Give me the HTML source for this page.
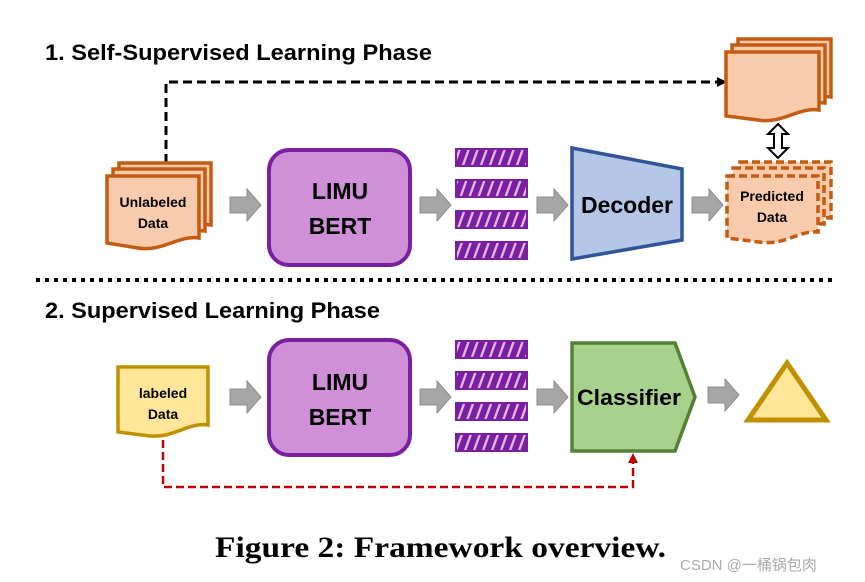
<!DOCTYPE html>
<html><head><meta charset="utf-8"><style>
html,body{margin:0;padding:0;background:#fff;}
svg{display:block;}
.t{font-family:"Liberation Sans",sans-serif;font-weight:bold;}
</style></head><body>
<svg width="865" height="582" viewBox="0 0 865 582" xmlns="http://www.w3.org/2000/svg">
<defs>
<pattern id="hatch" width="9" height="18" patternUnits="userSpaceOnUse" patternTransform="skewX(-20)">
<rect width="9" height="18" fill="#7a1fa0"/><rect x="4" y="0" width="2.5" height="18" fill="#e0b8e8"/>
</pattern>
<marker id="ab" markerWidth="10" markerHeight="10" refX="8" refY="5" orient="auto" markerUnits="userSpaceOnUse"><path d="M0,0 L10,5 L0,10 z" fill="#000"/></marker>
<marker id="ar" markerWidth="10" markerHeight="10" refX="8" refY="5" orient="auto" markerUnits="userSpaceOnUse"><path d="M0,0 L10,5 L0,10 z" fill="#c00000"/></marker>
<g id="garrow"><path d="M0,-8 L17,-8 L17,-16 L31,0 L17,16 L17,8 L0,8 z" fill="#a6a6a6" stroke="#8c8c8c" stroke-width="1"/></g>
<g id="bars" stroke="#7a1fa0" stroke-width="2">
<rect x="1" y="1" width="71" height="17" fill="url(#hatch)"/>
<rect x="1" y="32" width="71" height="17" fill="url(#hatch)"/>
<rect x="1" y="63" width="71" height="17" fill="url(#hatch)"/>
<rect x="1" y="94" width="71" height="17" fill="url(#hatch)"/>
</g>
</defs>

<text x="45" y="60" class="t" font-size="22" fill="#000" textLength="387" lengthAdjust="spacingAndGlyphs">1. Self-Supervised Learning Phase</text>

<path d="M166,163 L166,82 L725,82" fill="none" stroke="#000" stroke-width="3" stroke-dasharray="9,5" marker-end="url(#ab)"/>

<g fill="#f8cbad" stroke="#c55a11" stroke-width="3.5">
<path d="M119,163 L211,163 L211,225 C190,222 175,240 150,236 L119,232 z"/>
<path d="M113,169 L205,169 L205,231 C184,228 169,246 144,242 L113,238 z"/>
<path d="M107,176 L199,176 L199,238 C178,235 163,252 138,248 L107,243 z"/>
</g>
<text x="153" y="207" class="t" font-size="14" text-anchor="middle">Unlabeled</text>
<text x="153" y="228" class="t" font-size="14" text-anchor="middle">Data</text>

<use href="#garrow" x="230" y="205"/>
<rect x="269" y="150" width="141" height="115" rx="20" fill="#cf90d8" stroke="#7a1fa0" stroke-width="4"/>
<text x="340" y="199" class="t" font-size="23" text-anchor="middle">LIMU</text>
<text x="340" y="234" class="t" font-size="23" text-anchor="middle">BERT</text>
<use href="#garrow" x="420" y="205"/>
<use href="#bars" x="455" y="148"/>
<use href="#garrow" x="537" y="205"/>
<path d="M572,148 L682,169 L682,240 L572,259 z" fill="#b4c7e7" stroke="#2f5597" stroke-width="3.5"/>
<text x="627" y="213" class="t" font-size="23" text-anchor="middle">Decoder</text>
<use href="#garrow" x="692" y="205"/>

<g fill="#f8cbad" stroke="#c55a11" stroke-width="3.5">
<path d="M738,39 L831,39 L831,97 C810,94 795,112 770,108 L738,104 z"/>
<path d="M732,45 L825,45 L825,103 C804,100 789,118 764,114 L732,110 z"/>
<path d="M726,52 L819,52 L819,110 C798,107 783,124 758,120 L726,116 z"/>
</g>
<path d="M778,124 L788,134 L782,134 L782,148 L788,148 L778,158 L768,148 L774,148 L774,134 L768,134 z" fill="#fff" stroke="#000" stroke-width="2"/>
<g fill="#f8cbad" stroke="#c55a11" stroke-width="3.5" stroke-dasharray="8,4">
<path d="M740,162 L831,162 L831,218 C812,216 798,232 772,228 L740,224 z"/>
<path d="M733,168 L824,168 L824,224 C805,222 791,238 765,234 L733,230 z"/>
<path d="M727,176 L818,176 L818,232 C799,230 785,246 759,242 L727,238 z"/>
</g>
<text x="772" y="201" class="t" font-size="14" text-anchor="middle">Predicted</text>
<text x="772" y="222" class="t" font-size="14" text-anchor="middle">Data</text>

<line x1="36" y1="280" x2="832" y2="280" stroke="#000" stroke-width="4" stroke-dasharray="4,5"/>

<text x="45" y="318" class="t" font-size="22" fill="#000" textLength="335" lengthAdjust="spacingAndGlyphs">2. Supervised Learning Phase</text>

<path d="M118,367 L208,367 L208,425 C188,422 175,438 150,436 L118,432 z" fill="#ffe699" stroke="#bf9000" stroke-width="3.5"/>
<text x="163" y="398" class="t" font-size="14" text-anchor="middle">labeled</text>
<text x="163" y="419" class="t" font-size="14" text-anchor="middle">Data</text>

<use href="#garrow" x="230" y="397"/>
<rect x="269" y="340" width="141" height="115" rx="20" fill="#cf90d8" stroke="#7a1fa0" stroke-width="4"/>
<text x="340" y="390" class="t" font-size="23" text-anchor="middle">LIMU</text>
<text x="340" y="425" class="t" font-size="23" text-anchor="middle">BERT</text>
<use href="#garrow" x="420" y="397"/>
<use href="#bars" x="455" y="340"/>
<use href="#garrow" x="537" y="397"/>
<path d="M572,343 L675,343 L695,397 L675,451 L572,451 z" fill="#a9d18e" stroke="#548235" stroke-width="3.5"/>
<text x="629" y="405" class="t" font-size="22" text-anchor="middle" textLength="104" lengthAdjust="spacingAndGlyphs">Classifier</text>
<use href="#garrow" x="708" y="395"/>
<path d="M787,363 L826,420 L748,420 z" fill="#ffe699" stroke="#bf9000" stroke-width="5"/>

<path d="M163,440 L163,487 L633,487 L633,455" fill="none" stroke="#c00000" stroke-width="2.5" stroke-dasharray="8,4" marker-end="url(#ar)"/>

<text x="215" y="557" font-family="Liberation Serif,serif" font-weight="bold" font-size="30" textLength="451" lengthAdjust="spacingAndGlyphs">Figure 2: Framework overview.</text>
<text x="680" y="570" font-family="Liberation Sans,'Noto Sans CJK SC',sans-serif" font-size="15" fill="#aaa">CSDN @一桶锅包肉</text>
</svg>
</body></html>
